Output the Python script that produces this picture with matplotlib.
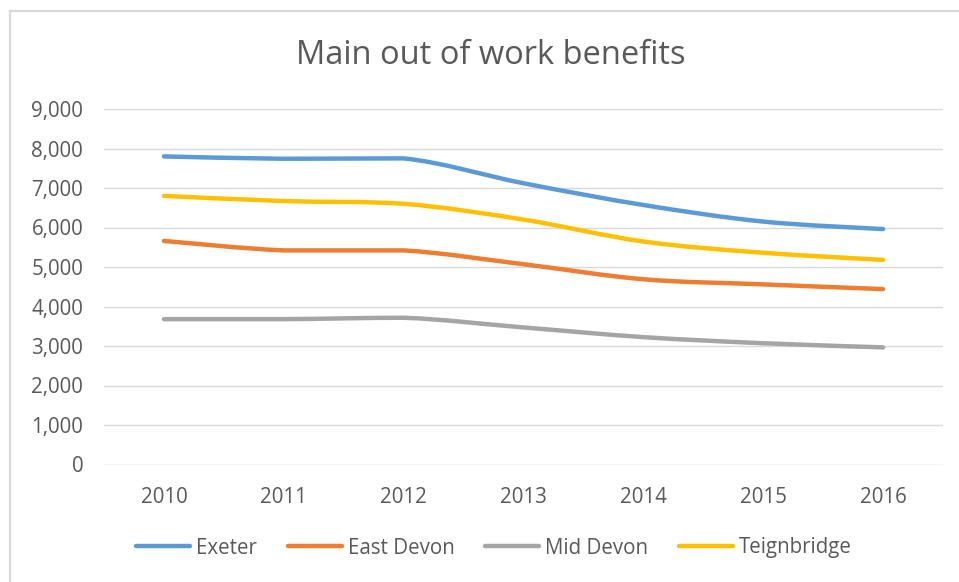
import matplotlib
matplotlib.use("Agg")
import matplotlib.pyplot as plt
from matplotlib.path import Path
from matplotlib.patches import PathPatch
from matplotlib.lines import Line2D
import numpy as np

years = ["2010", "2011", "2012", "2013", "2014", "2015", "2016"]
exeter = [7800, 7740, 7750, 7120, 6570, 6150, 5960]
east_devon = [5660, 5420, 5420, 5070, 4690, 4560, 4440]
mid_devon = [3680, 3680, 3715, 3470, 3225, 3070, 2965]
teignbridge = [6800, 6670, 6600, 6200, 5645, 5360, 5180]

series = [("Exeter", exeter, "#5B9BD5"),
          ("East Devon", east_devon, "#ED7D31"),
          ("Mid Devon", mid_devon, "#A5A5A5"),
          ("Teignbridge", teignbridge, "#FFC000")]

plt.rcParams['font.family'] = ['Open Sans', 'DejaVu Sans']
FS = 14.8
GREY = '#595959'

W, H = 959, 582
fig = plt.figure(figsize=(W / 100, H / 100), dpi=100)
ax = fig.add_axes([104 / W, (H - 464.5) / H, (943 - 104) / W, (464.5 - 109) / H])

def smooth_path(xs, ys):
    pts = np.column_stack([xs, ys]).astype(float)
    n = len(pts)
    verts = [pts[0]]
    codes = [Path.MOVETO]
    for i in range(n - 1):
        p0 = pts[i - 1] if i > 0 else pts[i]
        p1 = pts[i]
        p2 = pts[i + 1]
        p3 = pts[i + 2] if i + 2 < n else pts[i + 1]
        c1 = p1 + (p2 - p0) / 6.0
        c2 = p2 - (p3 - p1) / 6.0
        lo, hi = min(p1[1], p2[1]), max(p1[1], p2[1])
        c1[1] = np.clip(c1[1], lo, hi)
        c2[1] = np.clip(c2[1], lo, hi)
        verts += [c1, c2, p2]
        codes += [Path.CURVE4] * 3
    return Path(verts, codes)

x = np.arange(len(years))
handles = []
for name, vals, col in series:
    patch = PathPatch(smooth_path(x, vals), facecolor='none', edgecolor=col,
                      lw=3.2, capstyle='round', joinstyle='round', zorder=3)
    ax.add_patch(patch)
    handles.append(Line2D([], [], color=col, lw=3.2, solid_capstyle='round'))

ax.set_xlim(-0.5, len(years) - 0.5)
ax.set_ylim(0, 9000)
ax.set_yticks(np.arange(0, 9001, 1000))
ax.set_yticklabels([f"{v:,}" for v in range(0, 9001, 1000)])
ax.set_xticks(x)
ax.set_xticklabels(years)
ax.grid(axis='y', color='#D9D9D9', lw=1.0, zorder=0)
for s in ax.spines.values():
    s.set_visible(False)
ax.tick_params(axis='both', length=0, labelsize=FS, colors=GREY)
ax.tick_params(axis='y', pad=15)
ax.tick_params(axis='x', pad=16)

fig.text(491 / W, (H - 55) / H, "Main out of work benefits", ha='center', va='center',
         fontsize=23.5, color=GREY)

fig.legend(handles, [s[0] for s in series], loc='center', bbox_to_anchor=(494 / W, (H - 548) / H),
           ncol=4, frameon=False, fontsize=FS, handlelength=2.62, handletextpad=0.3,
           columnspacing=1.5, labelcolor=GREY, borderpad=0, borderaxespad=0)

# chart border (top and left visible)
fig.add_artist(Line2D([10 / W, 1.0], [(H - 11) / H, (H - 11) / H], color='#D9D9D9', lw=1.6,
                      transform=fig.transFigure))
fig.add_artist(Line2D([10 / W, 10 / W], [0, (H - 11) / H], color='#D9D9D9', lw=1.6,
                      transform=fig.transFigure))

fig.savefig("out.png", dpi=100)
